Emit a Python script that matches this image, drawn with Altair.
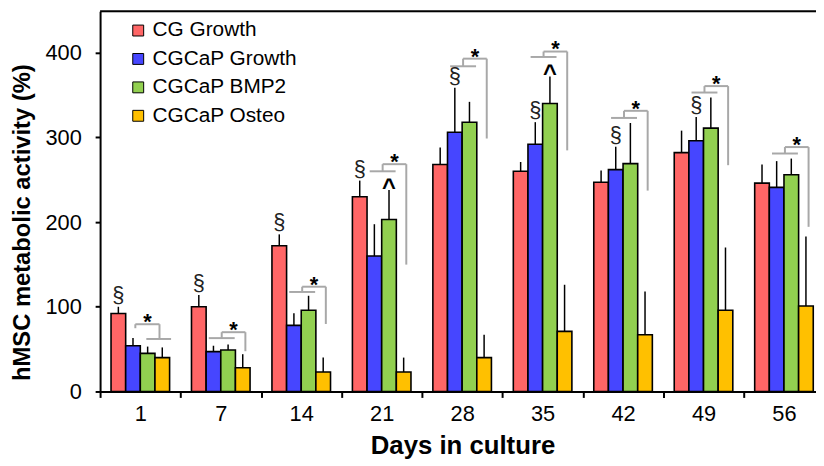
import altair as alt
import pandas as pd

days = ["1", "7", "14", "21", "28", "35", "42", "49", "56"]
series = ["CG Growth", "CGCaP Growth", "CGCaP BMP2", "CGCaP Osteo"]
colors = ["#FF6666", "#4646FF", "#92D050", "#FFC000"]

cg_growth = [92, 100, 172, 230, 268, 260, 247, 282, 246]
cgcap_growth = [54, 47, 78, 160, 306, 292, 262, 296, 241]
cgcap_bmp2 = [45, 49, 96, 203, 318, 340, 269, 311, 256]
cgcap_osteo = [40, 28, 23, 23, 40, 71, 67, 96, 101]

cg_growth_err = [8, 14, 13.5, 19, 20, 11, 14, 26, 22]
cgcap_growth_err = [9, 7, 14.5, 37.5, 52.5, 26, 27, 28, 31]
cgcap_bmp2_err = [8, 6.5, 17, 35, 24, 32, 48, 36, 19]
cgcap_osteo_err = [12, 16, 17, 17, 27, 55, 51, 74, 82]

# significance markers
section_cg_days = ["1", "7", "14", "21"]
section_cgcap_days = ["28", "35", "42", "49"]
caret_bmp2_days = ["21", "35"]

# bracket heights per day (value units)
bracket_lower = [62, 63, 117.5, 260, 384, 395, 323, 353, 281]
bracket_upper = [79.4, 70, 123.7, 268.4, 393, 401.4, 331.4, 360.6, 288.6]
bracket_leg = [74.7, 47.5, 79.7, 149.8, 298.7, 284.7, 237.2, 267.2, 194.4]

FONT = "Liberation Sans"
BW = 0.182  # bar width as fraction of a day group
W, H = 723, 384
XMAX = 8.898
YMAX = 449

means = [cg_growth, cgcap_growth, cgcap_bmp2, cgcap_osteo]
errs = [cg_growth_err, cgcap_growth_err, cgcap_bmp2_err, cgcap_osteo_err]

rows = []
for i, d in enumerate(days):
    for k, s in enumerate(series):
        c = i + 0.5 + (k - 1.5) * BW
        rows.append({"day": d, "series": s, "order": k,
                     "x0": c - BW / 2, "x1": c + BW / 2, "xc": c,
                     "value": means[k][i], "top": means[k][i] + errs[k][i]})
bars_df = pd.DataFrame(rows)

marks = []
for _, r in bars_df.iterrows():
    if (r["series"] == "CG Growth" and r["day"] in section_cg_days) or \
       (r["series"] == "CGCaP Growth" and r["day"] in section_cgcap_days):
        marks.append({"xc": r["xc"], "top": r["top"], "label": "§"})
section_df = pd.DataFrame(marks)
caret_df = pd.DataFrame([{"xc": r["xc"], "top": r["top"], "label": "^"}
                         for _, r in bars_df.iterrows()
                         if r["series"] == "CGCaP BMP2" and r["day"] in caret_bmp2_days])

segs = []
stars = []
for i, d in enumerate(days):
    c0 = i + 0.5
    lo, up, leg = bracket_lower[i], bracket_upper[i], bracket_leg[i]
    if i == 0:
        ul, ur = c0 - 0.34 * BW, c0 + 1.31 * BW
        segs += [(ul, ur, up, up), (ul, ul, up, leg), (ur, ur, up, lo),
                 (c0 + 0.41 * BW, c0 + 2.1 * BW, lo, lo)]
        stars.append({"x": (ul + ur) / 2, "y": up, "label": "*"})
    else:
        ll, lr = c0 - 0.82 * BW, c0 + 0.95 * BW
        m = (ll + lr) / 2
        rr = c0 + 1.68 * BW
        segs += [(ll, lr, lo, lo), (m, m, lo, up), (m, rr, up, up), (rr, rr, up, leg)]
        stars.append({"x": (m + rr) / 2, "y": up, "label": "*"})
seg_df = pd.DataFrame(segs, columns=["x", "x2", "y", "y2"])
star_df = pd.DataFrame(stars)

xscale = alt.Scale(domain=[0, XMAX], nice=False, zero=False)
yscale = alt.Scale(domain=[0, YMAX], nice=False)

label_arr = "[" + ",".join("'" + d + "'" for d in days) + "]"
xvals = [v / 2 for v in range(0, 18)]
xaxis = alt.Axis(
    values=xvals, title="Days in culture", grid=False,
    labelExpr=f"(datum.value % 1) == 0.5 ? {label_arr}[floor(datum.value)] : ''",
    tickOpacity={"condition": {"test": "(datum.value % 1) != 0", "value": 0}, "value": 1},
    tickSize=6, tickWidth=2, tickColor="black", domainWidth=2, domainColor="black",
    labelFontSize=22, labelFont=FONT, labelColor="black", labelPadding=6,
    labelOverlap=False, labelFlush=False,
    titleFont=FONT, titleFontSize=26, titleFontWeight="bold", titleColor="black",
    titleX=366, titleY=63, titleBaseline="alphabetic", titleAlign="center",
)
yaxis = alt.Axis(
    values=[0, 100, 200, 300, 400], title="hMSC metabolic activity (%)", grid=False,
    tickSize=5, tickWidth=2, tickColor="black", domainWidth=2, domainColor="black",
    labelFontSize=22, labelFont=FONT, labelColor="black", labelPadding=14,
    titleFont=FONT, titleFontSize=24, titleFontWeight="bold", titleColor="black",
    titleAngle=270, titleX=-71, titleY=213, titleBaseline="alphabetic", titleAlign="center",
)

bars = alt.Chart(bars_df).mark_rect(stroke="black", strokeWidth=1.6).encode(
    x=alt.X("x0:Q", scale=xscale, axis=xaxis),
    x2="x1:Q",
    y=alt.Y("value:Q", scale=yscale, axis=yaxis),
    y2=alt.datum(0),
    color=alt.Color("series:N", scale=alt.Scale(domain=series, range=colors),
                    legend=alt.Legend(title=None, orient="none", legendX=28, legendY=9,
                                      symbolType="square", symbolSize=121,
                                      symbolStrokeColor="black", symbolStrokeWidth=1,
                                      symbolOpacity=1,
                                      labelFont=FONT, labelFontSize=21, labelColor="black",
                                      labelOffset=4, rowPadding=6.7, padding=0)),
)

errbars = alt.Chart(bars_df).mark_rule(color="black", strokeWidth=1.5).encode(
    x="xc:Q", y="value:Q", y2="top:Q")

brackets = alt.Chart(seg_df).mark_rule(color="#A8A8A8", strokeWidth=2).encode(
    x="x:Q", x2="x2:Q", y="y:Q", y2="y2:Q")

star_text = alt.Chart(star_df).mark_text(
    font=FONT, fontSize=22, fontWeight="bold", color="black", baseline="alphabetic", dy=5
).encode(x="x:Q", y="y:Q", text="label:N")

section_text = alt.Chart(section_df).mark_text(
    font=FONT, fontSize=22, color="#222222", baseline="bottom", dy=0
).encode(x="xc:Q", y="top:Q", text="label:N")

caret_text = alt.Chart(caret_df).mark_text(
    font=FONT, fontSize=24, fontWeight="bold", color="black", baseline="alphabetic", dy=5
).encode(x="xc:Q", y="top:Q", text="label:N")

frame_df = pd.DataFrame({"y": [YMAX]})
frame = alt.Chart(frame_df).mark_rule(color="black", strokeWidth=2).encode(
    y="y:Q", x=alt.value(0), x2=alt.value(W))

chart = alt.layer(bars, errbars, brackets, star_text, section_text, caret_text, frame).properties(
    width=W, height=H,
    autosize=alt.AutoSizeParams(type="none"),
    padding={"left": 93, "top": 1, "right": 0, "bottom": 72},
).configure_view(stroke=None).configure(background="white")

chart.save("out.html", embed_options={"renderer": "svg", "actions": False})
